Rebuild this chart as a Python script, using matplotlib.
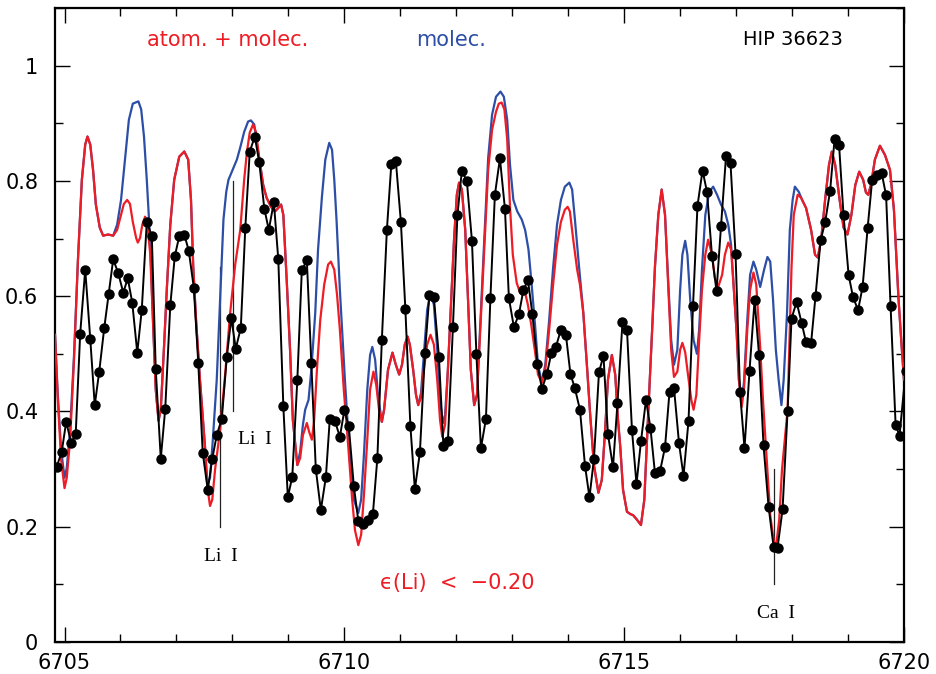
import matplotlib
matplotlib.use('Agg')
import matplotlib.pyplot as plt
from matplotlib.ticker import MultipleLocator

# observed spectrum (black dots)
wave_obs = [
    6704.86, 6704.95, 6705.03, 6705.12, 6705.20, 6705.28, 6705.37, 6705.46, 6705.54, 6705.62,
    6705.71, 6705.79, 6705.87, 6705.96, 6706.05, 6706.13, 6706.21, 6706.30, 6706.38, 6706.47,
    6706.56, 6706.63, 6706.72, 6706.80, 6706.89, 6706.97, 6707.05, 6707.14, 6707.22, 6707.31,
    6707.39, 6707.47, 6707.56, 6707.64, 6707.72, 6707.81, 6707.90, 6707.98, 6708.06, 6708.15,
    6708.23, 6708.31, 6708.40, 6708.48, 6708.57, 6708.65, 6708.74, 6708.82, 6708.91, 6708.99,
    6709.07, 6709.16, 6709.24, 6709.33, 6709.41, 6709.49, 6709.58, 6709.67, 6709.74, 6709.83,
    6709.92, 6710.00, 6710.08, 6710.17, 6710.25, 6710.33, 6710.42, 6710.51, 6710.59, 6710.67,
    6710.76, 6710.84, 6710.92, 6711.01, 6711.09, 6711.18, 6711.26, 6711.35, 6711.44, 6711.52,
    6711.60, 6711.69, 6711.77, 6711.85, 6711.94, 6712.02, 6712.10, 6712.19, 6712.28, 6712.36,
    6712.44, 6712.53, 6712.61, 6712.69, 6712.78, 6712.87, 6712.94, 6713.03, 6713.12, 6713.20,
    6713.28, 6713.36, 6713.45, 6713.53, 6713.62, 6713.70, 6713.78, 6713.87, 6713.96, 6714.04,
    6714.12, 6714.21, 6714.30, 6714.38, 6714.46, 6714.55, 6714.63, 6714.71, 6714.80, 6714.88,
    6714.97, 6715.05, 6715.14, 6715.22, 6715.30, 6715.39, 6715.47, 6715.55, 6715.64, 6715.73,
    6715.81, 6715.89, 6715.98, 6716.06, 6716.15, 6716.23, 6716.31, 6716.40, 6716.48, 6716.57,
    6716.65, 6716.73, 6716.82, 6716.90, 6716.99, 6717.07, 6717.15, 6717.24, 6717.33, 6717.41,
    6717.49, 6717.58, 6717.67, 6717.74, 6717.83, 6717.92, 6717.99, 6718.08, 6718.17, 6718.25,
    6718.34, 6718.42, 6718.51, 6718.59, 6718.68, 6718.76, 6718.84, 6718.92, 6719.01, 6719.09,
    6719.18, 6719.26, 6719.35, 6719.43, 6719.51, 6719.60, 6719.68, 6719.76, 6719.85, 6719.92,
    6720.03,
]
flux_obs = [
    0.304, 0.330, 0.382, 0.345, 0.361, 0.535, 0.646, 0.526, 0.411, 0.469,
    0.545, 0.604, 0.664, 0.640, 0.606, 0.631, 0.589, 0.502, 0.576, 0.729,
    0.704, 0.473, 0.318, 0.405, 0.584, 0.669, 0.704, 0.707, 0.679, 0.615,
    0.484, 0.328, 0.264, 0.318, 0.359, 0.387, 0.495, 0.562, 0.509, 0.545,
    0.718, 0.851, 0.877, 0.832, 0.752, 0.715, 0.763, 0.664, 0.409, 0.251,
    0.287, 0.455, 0.645, 0.662, 0.484, 0.300, 0.229, 0.286, 0.387, 0.384,
    0.356, 0.402, 0.374, 0.270, 0.210, 0.204, 0.211, 0.222, 0.319, 0.524,
    0.715, 0.830, 0.835, 0.729, 0.578, 0.375, 0.265, 0.329, 0.501, 0.602,
    0.598, 0.495, 0.340, 0.348, 0.546, 0.740, 0.818, 0.799, 0.696, 0.499,
    0.336, 0.387, 0.597, 0.776, 0.839, 0.751, 0.597, 0.546, 0.569, 0.611,
    0.628, 0.569, 0.483, 0.439, 0.465, 0.502, 0.512, 0.542, 0.532, 0.465,
    0.440, 0.403, 0.306, 0.251, 0.318, 0.468, 0.497, 0.361, 0.303, 0.414,
    0.555, 0.542, 0.367, 0.274, 0.348, 0.420, 0.371, 0.293, 0.296, 0.338,
    0.434, 0.441, 0.345, 0.288, 0.384, 0.583, 0.757, 0.818, 0.781, 0.669,
    0.609, 0.721, 0.843, 0.831, 0.673, 0.434, 0.336, 0.471, 0.593, 0.498,
    0.341, 0.235, 0.165, 0.163, 0.230, 0.401, 0.561, 0.590, 0.554, 0.520,
    0.519, 0.601, 0.697, 0.728, 0.783, 0.873, 0.862, 0.740, 0.637, 0.598,
    0.576, 0.616, 0.718, 0.801, 0.811, 0.814, 0.775, 0.583, 0.377, 0.358,
    0.470,
]

# synthetic spectrum, atoms + molecules (red)
wave_atm = [
    6704.83, 6704.88, 6704.94, 6705.00, 6705.04, 6705.10, 6705.17, 6705.24, 6705.31, 6705.37,
    6705.41, 6705.46, 6705.51, 6705.56, 6705.63, 6705.69, 6705.78, 6705.87, 6705.94, 6706.01,
    6706.06, 6706.12, 6706.17, 6706.22, 6706.28, 6706.31, 6706.35, 6706.39, 6706.44, 6706.48,
    6706.53, 6706.58, 6706.63, 6706.68, 6706.72, 6706.78, 6706.83, 6706.89, 6706.96, 6707.05,
    6707.14, 6707.21, 6707.26, 6707.30, 6707.35, 6707.42, 6707.51, 6707.56, 6707.60, 6707.64,
    6707.69, 6707.78, 6707.87, 6707.96, 6708.05, 6708.14, 6708.21, 6708.26, 6708.31, 6708.37,
    6708.42, 6708.49, 6708.55, 6708.61, 6708.69, 6708.76, 6708.81, 6708.87, 6708.91, 6708.97,
    6709.03, 6709.08, 6709.16, 6709.21, 6709.26, 6709.33, 6709.37, 6709.42, 6709.46, 6709.51,
    6709.57, 6709.64, 6709.71, 6709.76, 6709.82, 6709.87, 6709.92, 6709.99, 6710.07, 6710.14,
    6710.19, 6710.25, 6710.30, 6710.35, 6710.41, 6710.46, 6710.52, 6710.57, 6710.62, 6710.67,
    6710.71, 6710.78, 6710.86, 6710.92, 6710.98, 6711.03, 6711.08, 6711.13, 6711.17, 6711.23,
    6711.28, 6711.32, 6711.37, 6711.42, 6711.48, 6711.54, 6711.60, 6711.66, 6711.71, 6711.75,
    6711.80, 6711.85, 6711.91, 6711.96, 6712.01, 6712.05, 6712.10, 6712.16, 6712.21, 6712.26,
    6712.32, 6712.37, 6712.42, 6712.50, 6712.57, 6712.64, 6712.71, 6712.76, 6712.81, 6712.86,
    6712.91, 6712.96, 6713.01, 6713.08, 6713.14, 6713.18, 6713.23, 6713.28, 6713.34, 6713.41,
    6713.46, 6713.53, 6713.59, 6713.66, 6713.73, 6713.80, 6713.87, 6713.94, 6713.99, 6714.03,
    6714.09, 6714.16, 6714.21, 6714.27, 6714.34, 6714.39, 6714.46, 6714.54, 6714.60, 6714.66,
    6714.71, 6714.78, 6714.84, 6714.89, 6714.93, 6714.98, 6715.05, 6715.11, 6715.16, 6715.23,
    6715.30, 6715.36, 6715.43, 6715.50, 6715.55, 6715.61, 6715.67, 6715.73, 6715.79, 6715.84,
    6715.89, 6715.95, 6716.00, 6716.04, 6716.09, 6716.14, 6716.20, 6716.24, 6716.29, 6716.34,
    6716.39, 6716.45, 6716.50, 6716.57, 6716.62, 6716.68, 6716.75, 6716.80, 6716.86, 6716.91,
    6716.96, 6717.01, 6717.05, 6717.10, 6717.14, 6717.20, 6717.25, 6717.31, 6717.36, 6717.43,
    6717.48, 6717.55, 6717.61, 6717.67, 6717.71, 6717.77, 6717.82, 6717.92, 6717.99, 6718.03,
    6718.10, 6718.16, 6718.25, 6718.34, 6718.41, 6718.46, 6718.52, 6718.59, 6718.66, 6718.71,
    6718.77, 6718.85, 6718.92, 6718.99, 6719.06, 6719.13, 6719.20, 6719.27, 6719.32, 6719.36,
    6719.41, 6719.48, 6719.57, 6719.66, 6719.75, 6719.82, 6719.90, 6719.95, 6720.00,
]
flux_atm = [
    0.533, 0.420, 0.316, 0.267, 0.285, 0.351, 0.490, 0.663, 0.802, 0.863,
    0.877, 0.863, 0.819, 0.759, 0.719, 0.705, 0.707, 0.705, 0.715, 0.741,
    0.760, 0.767, 0.760, 0.729, 0.701, 0.693, 0.701, 0.724, 0.738, 0.724,
    0.675, 0.559, 0.438, 0.384, 0.403, 0.516, 0.616, 0.724, 0.802, 0.842,
    0.851, 0.837, 0.767, 0.651, 0.559, 0.455, 0.339, 0.264, 0.236, 0.247,
    0.299, 0.368, 0.464, 0.571, 0.655, 0.715, 0.802, 0.851, 0.884, 0.898,
    0.885, 0.832, 0.793, 0.771, 0.755, 0.747, 0.752, 0.759, 0.741, 0.628,
    0.507, 0.385, 0.307, 0.319, 0.359, 0.380, 0.365, 0.351, 0.385, 0.472,
    0.559, 0.620, 0.655, 0.660, 0.646, 0.602, 0.542, 0.438, 0.339, 0.247,
    0.194, 0.168, 0.186, 0.255, 0.351, 0.438, 0.469, 0.446, 0.403, 0.382,
    0.403, 0.472, 0.502, 0.481, 0.464, 0.481, 0.516, 0.530, 0.516, 0.472,
    0.429, 0.411, 0.424, 0.472, 0.516, 0.533, 0.516, 0.455, 0.385, 0.356,
    0.377, 0.472, 0.594, 0.698, 0.776, 0.797, 0.785, 0.715, 0.594, 0.472,
    0.411, 0.429, 0.524, 0.681, 0.819, 0.889, 0.920, 0.934, 0.936, 0.924,
    0.872, 0.755, 0.672, 0.623, 0.606, 0.602, 0.606, 0.585, 0.550, 0.502,
    0.464, 0.450, 0.472, 0.542, 0.620, 0.689, 0.729, 0.750, 0.755, 0.747,
    0.698, 0.646, 0.620, 0.571, 0.472, 0.398, 0.307, 0.259, 0.281, 0.368,
    0.455, 0.498, 0.464, 0.385, 0.339, 0.264, 0.226, 0.222, 0.220, 0.212,
    0.203, 0.247, 0.398, 0.542, 0.651, 0.741, 0.785, 0.741, 0.611, 0.507,
    0.460, 0.469, 0.507, 0.519, 0.503, 0.464, 0.420, 0.403, 0.429, 0.524,
    0.611, 0.672, 0.698, 0.672, 0.632, 0.616, 0.637, 0.672, 0.693, 0.681,
    0.611, 0.536, 0.455, 0.408, 0.438, 0.542, 0.611, 0.641, 0.620, 0.512,
    0.420, 0.311, 0.220, 0.177, 0.163, 0.212, 0.299, 0.403, 0.650, 0.741,
    0.776, 0.771, 0.753, 0.715, 0.672, 0.667, 0.698, 0.767, 0.828, 0.851,
    0.828, 0.767, 0.719, 0.707, 0.741, 0.793, 0.816, 0.802, 0.780, 0.776,
    0.793, 0.837, 0.861, 0.845, 0.819, 0.750, 0.599, 0.524, 0.455,
]

# synthetic spectrum, molecules only (blue)
wave_mol = [
    6704.83, 6704.88, 6704.94, 6705.00, 6705.04, 6705.10, 6705.17, 6705.24, 6705.31, 6705.37,
    6705.41, 6705.46, 6705.51, 6705.56, 6705.63, 6705.69, 6705.78, 6705.87, 6705.94, 6706.01,
    6706.08, 6706.15, 6706.22, 6706.32, 6706.37, 6706.42, 6706.47, 6706.53, 6706.58, 6706.63,
    6706.68, 6706.72, 6706.78, 6706.83, 6706.89, 6706.96, 6707.05, 6707.14, 6707.21, 6707.26,
    6707.30, 6707.35, 6707.42, 6707.51, 6707.55, 6707.60, 6707.65, 6707.72, 6707.78, 6707.84,
    6707.89, 6707.93, 6707.99, 6708.08, 6708.14, 6708.21, 6708.28, 6708.33, 6708.39, 6708.44,
    6708.49, 6708.55, 6708.61, 6708.69, 6708.76, 6708.81, 6708.87, 6708.91, 6708.97, 6709.03,
    6709.08, 6709.16, 6709.21, 6709.26, 6709.30, 6709.36, 6709.41, 6709.48, 6709.53, 6709.60,
    6709.66, 6709.73, 6709.78, 6709.82, 6709.86, 6709.92, 6710.01, 6710.10, 6710.17, 6710.25,
    6710.30, 6710.35, 6710.41, 6710.46, 6710.50, 6710.55, 6710.60, 6710.67, 6710.71, 6710.78,
    6710.86, 6710.92, 6710.98, 6711.03, 6711.08, 6711.13, 6711.17, 6711.23, 6711.28, 6711.32,
    6711.37, 6711.42, 6711.48, 6711.54, 6711.60, 6711.66, 6711.71, 6711.76, 6711.80, 6711.85,
    6711.91, 6711.96, 6712.01, 6712.05, 6712.10, 6712.16, 6712.21, 6712.26, 6712.32, 6712.37,
    6712.42, 6712.50, 6712.57, 6712.64, 6712.71, 6712.79, 6712.85, 6712.91, 6712.96, 6713.02,
    6713.09, 6713.17, 6713.23, 6713.29, 6713.34, 6713.41, 6713.46, 6713.53, 6713.59, 6713.66,
    6713.73, 6713.80, 6713.87, 6713.94, 6714.02, 6714.07, 6714.12, 6714.19, 6714.27, 6714.34,
    6714.39, 6714.46, 6714.54, 6714.60, 6714.66, 6714.71, 6714.78, 6714.84, 6714.89, 6714.93,
    6714.98, 6715.05, 6715.11, 6715.16, 6715.23, 6715.30, 6715.36, 6715.43, 6715.50, 6715.55,
    6715.61, 6715.67, 6715.73, 6715.79, 6715.84, 6715.89, 6715.95, 6716.00, 6716.04, 6716.09,
    6716.13, 6716.18, 6716.24, 6716.30, 6716.34, 6716.39, 6716.45, 6716.52, 6716.59, 6716.66,
    6716.73, 6716.80, 6716.86, 6716.91, 6716.96, 6717.01, 6717.05, 6717.10, 6717.14, 6717.20,
    6717.25, 6717.31, 6717.36, 6717.43, 6717.50, 6717.56, 6717.61, 6717.66, 6717.71, 6717.76,
    6717.81, 6717.85, 6717.91, 6717.96, 6718.01, 6718.05, 6718.12, 6718.18, 6718.25, 6718.34,
    6718.41, 6718.46, 6718.52, 6718.59, 6718.66, 6718.71, 6718.77, 6718.85, 6718.92, 6718.99,
    6719.06, 6719.13, 6719.20, 6719.27, 6719.32, 6719.36, 6719.41, 6719.48, 6719.57, 6719.66,
    6719.75, 6719.82, 6719.90, 6719.95, 6720.00,
]
flux_mol = [
    0.533, 0.429, 0.333, 0.285, 0.302, 0.368, 0.498, 0.663, 0.802, 0.863,
    0.877, 0.863, 0.819, 0.759, 0.719, 0.705, 0.707, 0.705, 0.724, 0.767,
    0.837, 0.906, 0.934, 0.938, 0.924, 0.877, 0.802, 0.698, 0.559, 0.438,
    0.384, 0.403, 0.516, 0.616, 0.724, 0.802, 0.842, 0.851, 0.837, 0.767,
    0.651, 0.559, 0.455, 0.339, 0.273, 0.285, 0.351, 0.455, 0.594, 0.733,
    0.781, 0.802, 0.816, 0.837, 0.858, 0.885, 0.903, 0.905, 0.898, 0.863,
    0.832, 0.793, 0.771, 0.755, 0.747, 0.752, 0.759, 0.741, 0.628, 0.507,
    0.385, 0.307, 0.330, 0.377, 0.403, 0.420, 0.472, 0.571, 0.681, 0.773,
    0.837, 0.866, 0.854, 0.802, 0.733, 0.611, 0.455, 0.316, 0.247, 0.224,
    0.247, 0.325, 0.438, 0.498, 0.512, 0.490, 0.429, 0.382, 0.403, 0.472,
    0.502, 0.481, 0.464, 0.481, 0.516, 0.530, 0.516, 0.472, 0.429, 0.411,
    0.432, 0.498, 0.576, 0.606, 0.585, 0.507, 0.420, 0.380, 0.394, 0.472,
    0.594, 0.698, 0.776, 0.797, 0.785, 0.715, 0.594, 0.472, 0.411, 0.429,
    0.533, 0.698, 0.840, 0.915, 0.946, 0.955, 0.946, 0.906, 0.828, 0.767,
    0.747, 0.733, 0.715, 0.681, 0.628, 0.547, 0.481, 0.450, 0.481, 0.559,
    0.649, 0.724, 0.767, 0.790, 0.797, 0.785, 0.733, 0.655, 0.571, 0.472,
    0.398, 0.307, 0.259, 0.281, 0.368, 0.455, 0.498, 0.464, 0.385, 0.339,
    0.264, 0.226, 0.222, 0.220, 0.212, 0.203, 0.247, 0.398, 0.542, 0.651,
    0.741, 0.785, 0.741, 0.620, 0.524, 0.481, 0.507, 0.611, 0.672, 0.696,
    0.672, 0.594, 0.524, 0.500, 0.542, 0.646, 0.741, 0.781, 0.790, 0.776,
    0.759, 0.747, 0.724, 0.689, 0.611, 0.536, 0.455, 0.420, 0.450, 0.559,
    0.637, 0.660, 0.646, 0.616, 0.646, 0.668, 0.660, 0.594, 0.507, 0.455,
    0.411, 0.455, 0.571, 0.715, 0.767, 0.790, 0.781, 0.767, 0.753, 0.715,
    0.672, 0.667, 0.698, 0.767, 0.828, 0.851, 0.828, 0.767, 0.719, 0.707,
    0.741, 0.793, 0.816, 0.802, 0.780, 0.776, 0.793, 0.837, 0.861, 0.845,
    0.819, 0.750, 0.599, 0.524, 0.455,
]

# line markers: wavelength, bottom, top
mark_wave = [6707.78, 6708.01, 6717.68]
mark_lo = [0.20, 0.40, 0.10]
mark_hi = [0.65, 0.80, 0.30]

red = '#ee1c24'
blue = '#2d4ea6'

fig = plt.figure(figsize=(9.36, 6.74), dpi=100)
ax = fig.add_axes([55 / 936, 32 / 674, 849 / 936, 634 / 674])

ax.plot(wave_mol, flux_mol, color=blue, lw=1.6, zorder=2)
ax.plot(wave_atm, flux_atm, color=red, lw=1.6, zorder=3)
ax.plot(wave_obs, flux_obs, color='black', lw=1.4, marker='o', ms=6.5, zorder=4)

for w, lo, hi in zip(mark_wave, mark_lo, mark_hi):
    ax.plot([w, w], [lo, hi], color='#222222', lw=0.9, zorder=1)

ax.set_xlim(6704.83, 6720)
ax.set_ylim(0, 1.1)

ax.xaxis.set_major_locator(MultipleLocator(5))
ax.xaxis.set_minor_locator(MultipleLocator(1))
ax.yaxis.set_major_locator(MultipleLocator(0.2))
ax.yaxis.set_minor_locator(MultipleLocator(0.1))
ax.yaxis.set_major_formatter(plt.FuncFormatter(lambda v, p: f'{v:g}'))
ax.tick_params(which='both', direction='in', top=True, right=True, labelsize=15, width=1)
ax.tick_params(which='major', length=11)
ax.tick_params(which='minor', length=6)
ax.tick_params(axis='x', which='major', pad=8)
ax.tick_params(axis='y', which='major', pad=12)
for s in ax.spines.values():
    s.set_linewidth(1.6)

serif = ['Liberation Serif', 'DejaVu Serif']
ax.text(6707.92, 1.045, 'atom. + molec.', color=red, fontsize=15, ha='center', va='center')
ax.text(6711.91, 1.045, 'molec.', color=blue, fontsize=15, ha='center', va='center')
ax.text(6718.02, 1.045, 'HIP 36623', color='black', fontsize=14, ha='center', va='center')
ax.text(6707.80, 0.148, 'Li  I', fontsize=14, family=serif, ha='center', va='center')
ax.text(6708.40, 0.351, 'Li  I', fontsize=14, family=serif, ha='center', va='center')
ax.text(6717.71, 0.050, 'Ca  I', fontsize=14, family=serif, ha='center', va='center')
ax.text(6712.01, 0.102, '\u03f5(Li)  <  \u22120.20', color=red, fontsize=15, ha='center', va='center')

fig.savefig('out.png', dpi=100)
